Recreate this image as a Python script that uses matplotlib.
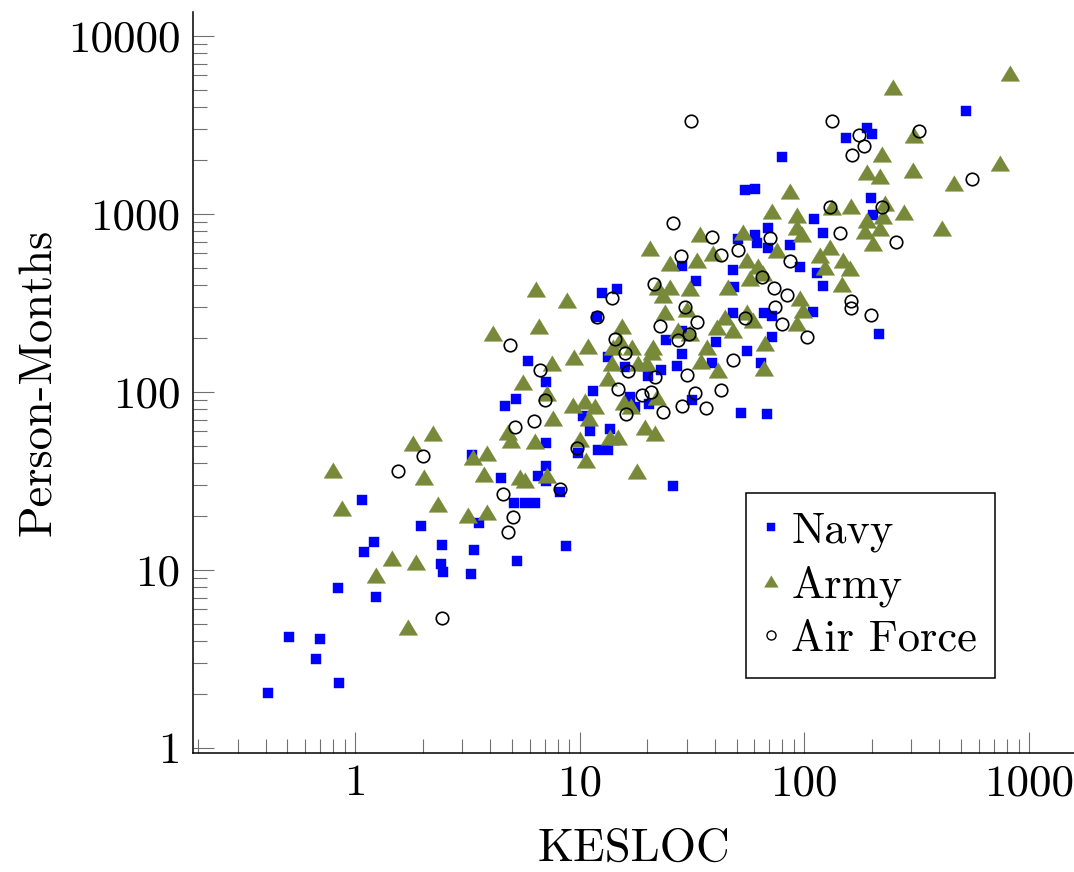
import matplotlib.pyplot as plt
from matplotlib.lines import Line2D
from matplotlib.ticker import FixedLocator, FuncFormatter, NullFormatter

plt.rcParams['font.family'] = ['cmr10', 'DejaVu Serif']
plt.rcParams['axes.unicode_minus'] = False
plt.rcParams['axes.formatter.use_mathtext'] = True

# KESLOC vs person-months
navy_x = [0.41, 0.85, 0.67, 0.51, 0.70, 0.84, 1.24, 1.07, 1.215, 1.10, 1.97, 2.44, 2.41, 2.47,
          3.39, 3.29, 3.32, 3.56, 12.6, 14.7, 11.95, 28.6, 33.0, 5.89, 7.08, 11.5, 5.21, 4.65,
          13.4, 15.9, 20.2, 23.0, 27.1, 28.6, 24.2, 20.4, 16.8, 17.65, 10.35, 11.1, 13.65, 12.1,
          13.4, 9.84, 7.08, 4.47, 7.08, 6.53, 7.08, 8.18, 5.10, 5.71, 6.33, 26.1, 31.7, 8.70,
          5.26, 28.6, 525, 190, 200, 153.5, 79.6, 54.5, 60.4, 198, 202, 110.6, 121.3, 69.0,
          60.4, 50.7, 61.6, 86.5, 69.0, 95.8, 114, 121.3, 48.2, 48.7, 48.2, 66.2, 71.9, 109.4,
          71.9, 40.5, 55.6, 215, 64.2, 38.9, 52.3, 68.3]
navy_y = [2.04, 2.32, 3.16, 4.2, 4.1, 7.9, 7.05, 24.7, 14.4, 12.6, 17.7, 13.8, 10.8, 9.74,
          12.95, 9.5, 44.3, 18.4, 360, 379, 264, 511, 420, 149, 113.8, 101.3, 91.3, 83.4,
          157, 138, 123, 133, 140, 163.5, 196, 85.6, 93.7, 82.4, 73.3, 60.4, 62, 47.2,
          47.2, 45.4, 51.7, 32.9, 38.4, 33.7, 31.6, 27.4, 23.8, 23.8, 23.8, 29.6, 90.2, 13.6,
          11.2, 220, 3790, 3042, 2814, 2673, 2090, 1364, 1382, 1230, 987, 937, 782, 834,
          762, 724, 687, 670, 644, 504, 466, 394, 485, 389, 278, 278, 267, 281,
          204, 191, 170, 212, 145.5, 145.5, 76.2, 75.2]

army_x = [2.22, 1.81, 0.80, 2.03, 0.875, 2.34, 3.18, 3.87, 1.46, 1.87, 1.24, 1.72, 3.35, 3.87,
          3.75, 6.40, 8.79, 20.6, 25.3, 34.4, 33.3, 22.4, 25.3, 23.5, 31.0, 30.1, 24.0, 27.4,
          31.0, 6.60, 4.12, 10.9, 9.44, 7.54, 5.60, 7.16, 15.45, 15.1, 14.1, 17.1, 21.0, 18.2,
          19.95, 13.9, 13.4, 9.35, 10.57, 11.7, 11.0, 7.61, 4.80, 4.95, 6.33, 10.04, 13.65, 14.8,
          19.55, 21.7, 15.8, 16.9, 10.68, 18.0, 5.43, 5.71, 7.16, 22.1, 34.7, 825, 248.5, 308,
          222, 190.4, 217.6, 305, 744, 464.5, 411, 86.5, 71.9, 92.9, 92.9, 97.8, 133, 161.6,
          229, 278, 190.4, 224.4, 217.6, 186.5, 202.5, 130.3, 117.6, 123.8, 148.9, 160, 147.4,
          39.3, 55.6, 62.3, 65.6, 75.7, 45.8, 57.4, 95.8, 98.8, 92.9, 55.6, 44.4, 40.9, 59.2,
          66.9, 36.9, 21.2, 53.4, 66.2, 41.3, 48.2]
army_y = [58.9, 51.7, 36.5, 33.3, 22.3, 23.5, 20.4, 21.2, 11.7, 11.1, 9.38, 4.78, 43.1, 45.4,
          34.6, 379, 329, 644, 530, 772, 551, 389, 389, 351, 384, 292, 281, 223,
          215, 235, 215, 181, 157, 145.5, 113.8, 98.7, 235, 196, 179, 179, 168, 145.5,
          145.5, 145.5, 120, 84.5, 89, 83.4, 71.4, 71.4, 59.6, 53.8, 53.0, 54.5, 55.9, 55.9,
          63.6, 58.9, 87.8, 83.4, 41.5, 36.0, 33.3, 32.0, 34.2, 93.7, 149, 6195, 5170, 2778,
          2173, 1722, 1635, 1767, 1934, 1494, 834, 1346, 1040, 987, 845, 772, 1095, 1109,
          1153, 1026, 925, 975, 834, 803, 687, 653, 589, 504, 551, 497, 404,
          604, 551, 511, 466, 628, 389, 437, 337, 289, 244, 281, 264, 232, 254,
          188.5, 179, 179, 792, 136, 133, 223]

airforce_x = [2.01, 1.55, 2.44, 26.1, 28.3, 21.4, 13.9, 11.95, 4.90, 6.66, 7.01, 6.27, 5.16,
              14.8, 16.1, 18.95, 20.8, 23.5, 28.6, 32.7, 30.1, 21.7, 16.4, 14.4, 22.8, 29.5,
              27.4, 30.7, 9.73, 8.18, 4.56, 15.9, 5.05, 4.80, 36.5, 42.6, 48.2, 31.3, 133,
              324.5, 175.4, 184.6, 163.2, 558.6, 130.3, 222, 144.3, 256.3, 38.9, 42.6, 50.7,
              70.4, 86.5, 64.9, 73.4, 83.8, 74.1, 161.6, 161.6, 198.4, 33.3, 54.5, 79.6, 102.9]
airforce_y = [43.7, 36.0, 5.37, 890, 581, 404, 337, 264, 184, 133, 90.2, 68.7, 63.6,
              104, 75.2, 96.2, 100, 77.2, 83.4, 98.7, 124.6, 121.4, 131, 199, 235, 300,
              196, 212, 48.4, 28.5, 26.7, 166, 19.9, 16.4, 81.3, 102.6, 151, 3331, 3331,
              2926, 2778, 2410, 2145, 1573, 1095, 1095, 782, 696, 743, 589, 628,
              733, 544, 443, 384, 351, 300, 324, 296, 271, 247, 260, 241, 204]

series_names = ['Navy', 'Army', 'Air Force']
navy_color = '#0000ff'
army_color = '#788a3a'
tri = [(0, 0.83), (-1, -0.83), (1, -0.83)]

fig = plt.figure(figsize=(10.74, 8.72), dpi=100)
ax = fig.add_axes([0.1797, 0.1365, 0.8203, 0.8498])
ax.set_xscale('log')
ax.set_yscale('log')

ax.plot(navy_x, navy_y, ls='none', marker='s', ms=7.6, mfc=navy_color, mec=navy_color, mew=0.3)
ax.plot(army_x, army_y, ls='none', marker=tri, ms=13.5, mfc=army_color, mec=army_color, mew=0.3)
ax.plot(airforce_x, airforce_y, ls='none', marker='o', ms=9.0, mfc='none', mec='black', mew=1.2)

ax.set_xlim(0.19, 1589)
ax.set_ylim(0.937, 13640)

for s in ['top', 'right']:
    ax.spines[s].set_visible(False)
for s in ['left', 'bottom']:
    ax.spines[s].set_linewidth(1.1)

ax.xaxis.set_major_locator(FixedLocator([1, 10, 100, 1000]))
ax.yaxis.set_major_locator(FixedLocator([1, 10, 100, 1000, 10000]))
minors_x = [m * 10.0 ** e for e in range(-1, 4) for m in range(2, 10)]
minors_y = [m * 10.0 ** e for e in range(0, 4) for m in range(2, 10)]
ax.xaxis.set_minor_locator(FixedLocator(minors_x))
ax.yaxis.set_minor_locator(FixedLocator(minors_y))
fmt = FuncFormatter(lambda v, p: '%d' % round(v))
ax.xaxis.set_major_formatter(fmt)
ax.yaxis.set_major_formatter(fmt)
ax.xaxis.set_minor_formatter(NullFormatter())
ax.yaxis.set_minor_formatter(NullFormatter())
ax.tick_params(which='major', direction='in', length=15, width=0.8, color='#707070',
               labelsize=32.5, pad=8)
ax.tick_params(which='minor', direction='in', length=10, width=0.8, color='#707070')
ax.tick_params(axis='y', which='major', pad=9)

ax.set_xlabel('KESLOC', fontsize=33.5, labelpad=17)
ax.set_ylabel('Person-Months', fontsize=33.5, labelpad=6)

handles = [
    Line2D([], [], ls='none', marker='s', ms=6.3, mfc=navy_color, mec=navy_color, mew=0.3),
    Line2D([], [], ls='none', marker=tri, ms=10, mfc=army_color, mec=army_color, mew=0.3),
    Line2D([], [], ls='none', marker='o', ms=6.5, mfc='none', mec='black', mew=1.0),
]
leg = ax.legend(handles, series_names, loc='upper left', bbox_to_anchor=(0.628, 0.351),
                fontsize=32, frameon=True, fancybox=False, borderaxespad=0,
                handlelength=0.3, handletextpad=0.3, labelspacing=0.30, borderpad=0.41)
leg.get_frame().set_edgecolor('black')
leg.get_frame().set_linewidth(1.1)
leg.get_frame().set_alpha(1)

fig.savefig('out.png', dpi=100)
